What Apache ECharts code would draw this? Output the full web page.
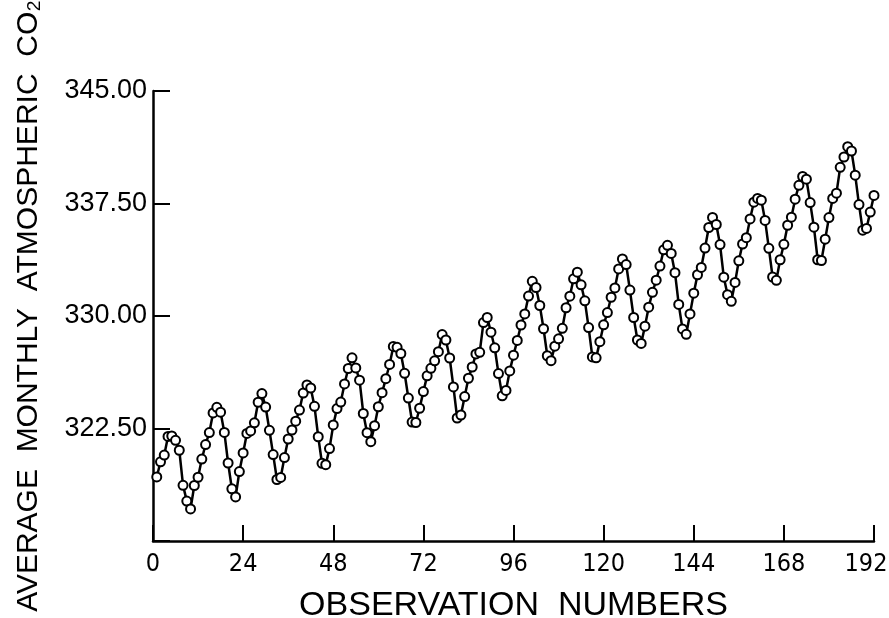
<!DOCTYPE html>
<html>
<head>
<meta charset="utf-8">
<script src="https://cdn.jsdelivr.net/npm/echarts@6/dist/echarts.min.js"></script>
<style>html,body{margin:0;padding:0;background:#fff;}#c{width:889px;height:618px;}</style>
</head>
<body>
<div id="c"></div>
<script>
// Average monthly atmospheric CO2, observations 1..192
const co2 = [
  319.27,320.28,320.73,321.97,322.00,321.71,321.05,318.71,317.66,317.14,318.70,319.25,
  320.46,321.43,322.23,323.54,323.91,323.59,322.24,320.20,318.48,317.94,319.63,320.87,
  322.17,322.34,322.88,324.25,324.83,323.93,322.38,320.76,319.10,319.24,320.56,321.80,
  322.40,322.99,323.73,324.86,325.40,325.20,323.98,321.95,320.18,320.09,321.16,322.74,
  323.83,324.26,325.47,326.50,327.21,326.54,325.72,323.50,322.22,321.62,322.69,323.95,
  324.89,325.82,326.77,327.97,327.91,327.50,326.18,324.53,322.93,322.90,323.85,324.96,
  326.01,326.51,327.01,327.62,328.76,328.40,327.20,325.27,323.20,323.40,324.63,325.85,
  326.60,327.47,327.58,329.56,329.90,328.92,327.88,326.16,324.68,325.04,326.34,327.39,
  328.37,329.40,330.14,331.33,332.31,331.90,330.70,329.15,327.35,327.02,327.99,328.48,
  329.18,330.55,331.32,332.48,332.92,332.08,331.01,329.23,327.27,327.21,328.29,329.41,
  330.23,331.25,331.87,333.14,333.80,333.43,331.73,329.90,328.40,328.17,329.32,330.59,
  331.58,332.39,333.33,334.41,334.71,334.17,332.89,330.77,329.14,328.78,330.14,331.52,
  332.75,333.24,334.53,335.90,336.57,336.10,334.76,332.59,331.42,330.98,332.24,333.68,
  334.80,335.22,336.47,337.59,337.84,337.72,336.37,334.51,332.60,332.38,333.75,334.78,
  336.05,336.59,337.79,338.71,339.30,339.12,337.56,335.92,333.75,333.70,335.12,336.56,
  337.84,338.19,339.91,340.60,341.29,341.00,339.39,337.43,335.72,335.84,336.93,338.04
];
const xTicks = [0, 24, 48, 72, 96, 120, 144, 168, 192];
const yTicks = [322.5, 330.0, 337.5, 345.0];
const xTitle = 'OBSERVATION  NUMBERS';
const yTitle = 'AVERAGE  MONTHLY  ATMOSPHERIC  CO\u2082';

const points = co2.map((v, i) => [i + 1, v]);
const chart = echarts.init(document.getElementById('c'), null, {renderer: 'canvas'});
const condensed = '"DejaVu Sans Condensed", "Liberation Sans", Arial, sans-serif';
const regular = '"Liberation Sans", Arial, sans-serif';
const lastX = xTicks[xTicks.length - 1];
chart.setOption({
  backgroundColor: '#fff',
  animation: false,
  grid: {left: 153, right: 15, top: 91, bottom: 77, containLabel: false, outerBoundsMode: 'none'},
  graphic: [{
    type: 'text',
    x: 29, y: 306,
    rotation: Math.PI / 2,
    style: {
      text: yTitle,
      font: '30px ' + regular,
      fill: '#000',
      textAlign: 'center',
      textVerticalAlign: 'middle'
    }
  }],
  xAxis: {
    type: 'value', min: 0, max: 192, interval: 24,
    name: xTitle, nameLocation: 'middle', nameGap: 48,
    nameTextStyle: {fontFamily: regular, fontSize: 34, color: '#000'},
    axisLine: {show: true, onZero: false, lineStyle: {color: '#000', width: 2.5}},
    axisTick: {show: true, inside: true, length: 16, lineStyle: {color: '#000', width: 2}},
    axisLabel: {
      color: '#000', fontFamily: condensed, fontSize: 25, margin: 11,
      formatter: v => v === lastX ? '{last|' + v + '}' : (xTicks.includes(v) ? String(v) : ''),
      rich: {
        last: {fontFamily: condensed, fontSize: 25, color: '#000', padding: [0, 16, 0, 0]}
      }
    },
    splitLine: {show: false}
  },
  yAxis: {
    type: 'value', min: 315, max: 345, interval: 7.5,
    axisLine: {show: true, lineStyle: {color: '#000', width: 2.5}},
    axisTick: {show: true, inside: true, length: 17, lineStyle: {color: '#000', width: 2}},
    axisLabel: {
      color: '#000', fontFamily: regular, fontSize: 27, margin: 6,
      formatter: v => yTicks.some(t => Math.abs(t - v) < 1e-6) ? v.toFixed(2) : ''
    },
    splitLine: {show: false}
  },
  series: [{
    type: 'line',
    data: points,
    symbol: 'circle', symbolSize: 9, showAllSymbol: true,
    lineStyle: {color: '#000', width: 2.5},
    itemStyle: {color: '#fff', borderColor: '#000', borderWidth: 2},
    z: 3
  }]
});
</script>
</body>
</html>
